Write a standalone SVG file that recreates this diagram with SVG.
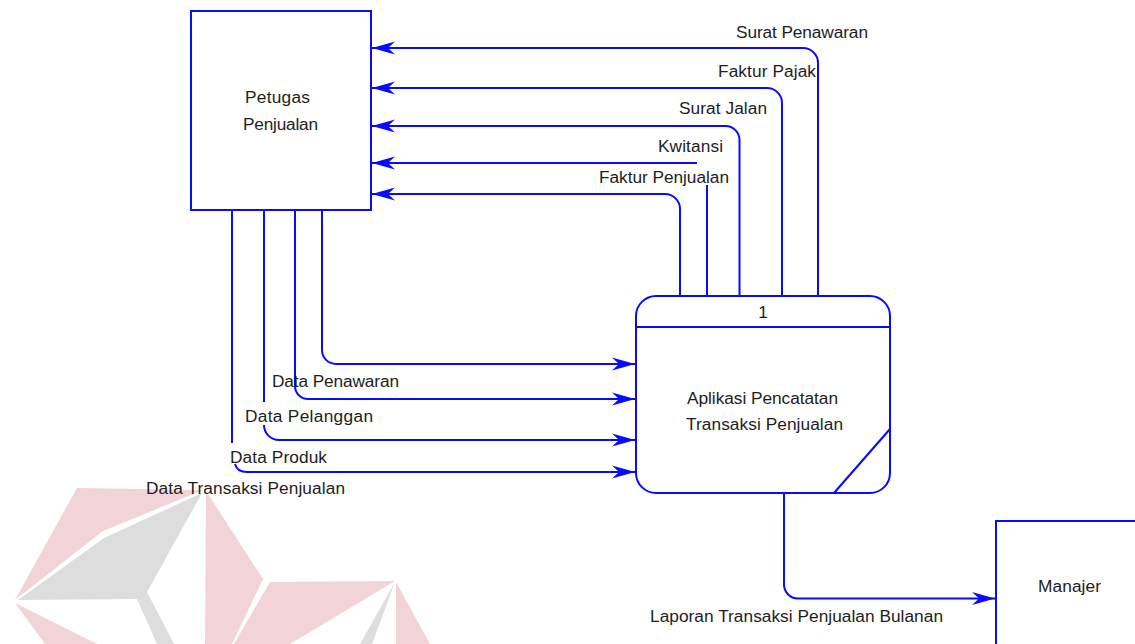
<svg xmlns="http://www.w3.org/2000/svg" width="1135" height="644" viewBox="0 0 1135 644">
<style>
.box{fill:#fff;stroke:#0a0aff;stroke-width:2}
.line{fill:none;stroke:#0a0aff;stroke-width:2}
.t{font-family:"Liberation Sans",Arial,sans-serif;font-size:17.3px;fill:#1e1e1e}
.c{text-anchor:middle}
.pink{fill:#f2d4d8}
.gray{fill:#dddddd}
</style>
<defs>
<marker id="arr" markerUnits="userSpaceOnUse" markerWidth="26" markerHeight="16" viewBox="-24 -8 26 16" refX="0" refY="0" orient="auto">
<path d="M0,0 L-23,-6.5 L-16,0 L-23,6.5 Z" fill="#0a0aff"/>
</marker>
</defs>
<rect width="1135" height="644" fill="#fff"/>
<g id="watermark">
<polygon class="pink" points="77,488 203,490 103,531 15,600"/>
<polygon class="gray" points="202,493 104,538 18,600 137,599 157,644 174,644 147,592"/>
<polygon class="pink" points="15,603 97,644 45,644"/>
<polygon class="pink" points="206,491 263,579 232,644 205,644"/>
<polygon class="pink" points="270,582 395,581 290,644 234,644"/>
<polygon class="gray" points="395,582 360,644 372,644"/>
<polygon class="pink" points="396,582 430,644 396,644"/>
</g>
<g id="connectors">
<path class="line" d="M818 296 V63 A15 15 0 0 0 803 48 H372" marker-end="url(#arr)"/>
<path class="line" d="M782 296 V103 A15 15 0 0 0 767 88 H372" marker-end="url(#arr)"/>
<path class="line" d="M739.5 296 V140 A14 14 0 0 0 725.5 126 H372" marker-end="url(#arr)"/>
<path class="line" d="M707 296 V185"/>
<path class="line" d="M697 163 H372" marker-end="url(#arr)"/>
<path class="line" d="M680 296 V209 A15 15 0 0 0 665 194 H372" marker-end="url(#arr)"/>
<path class="line" d="M322 210 V350 A14 14 0 0 0 336 364 H635" marker-end="url(#arr)"/>
<path class="line" d="M295 210 V386 A13 13 0 0 0 308 399 H635" marker-end="url(#arr)"/>
<path class="line" d="M264 210 V402"/>
<path class="line" d="M264 425 A15 15 0 0 0 279 440 H635" marker-end="url(#arr)"/>
<path class="line" d="M232 210 V443"/>
<path class="line" d="M235 464 Q237 472 247 472 H635" marker-end="url(#arr)"/>
<path class="line" d="M784 493 V584 A14 14 0 0 0 798 598.5 H995" marker-end="url(#arr)"/>
</g>
<g id="petugas">
<rect class="box" x="191" y="11" width="180" height="199"/>
<text class="t" x="245" y="103" textLength="65">Petugas</text>
<text class="t" x="243" y="130" textLength="75">Penjualan</text>
</g>
<g id="process1">
<rect class="box" x="636" y="296" width="254" height="197" rx="20" ry="20"/>
<line class="line" x1="636" y1="327" x2="890" y2="327"/>
<line class="line" x1="890" y1="429" x2="834" y2="493"/>
<text class="t c" x="763" y="318">1</text>
<text class="t" x="687" y="404" textLength="151">Aplikasi Pencatatan</text>
<text class="t" x="686" y="430" textLength="157">Transaksi Penjualan</text>
</g>
<g id="manajer">
<rect class="box" x="996" y="521" width="200" height="200"/>
<text class="t" x="1038" y="592" textLength="63">Manajer</text>
</g>
<g id="labels">
<text class="t" x="736" y="38" textLength="132">Surat Penawaran</text>
<text class="t" x="718" y="77" textLength="98">Faktur Pajak</text>
<text class="t" x="679" y="114" textLength="88">Surat Jalan</text>
<text class="t" x="658" y="152" textLength="65">Kwitansi</text>
<text class="t" x="599" y="183" textLength="130">Faktur Penjualan</text>
<text class="t" x="272" y="387" textLength="127">Data Penawaran</text>
<text class="t" x="245" y="422" textLength="128">Data Pelanggan</text>
<text class="t" x="230" y="463" textLength="97">Data Produk</text>
<text class="t" x="146" y="494" textLength="199">Data Transaksi Penjualan</text>
<text class="t" x="650" y="622" textLength="293">Laporan Transaksi Penjualan Bulanan</text>
</g>
</svg>
